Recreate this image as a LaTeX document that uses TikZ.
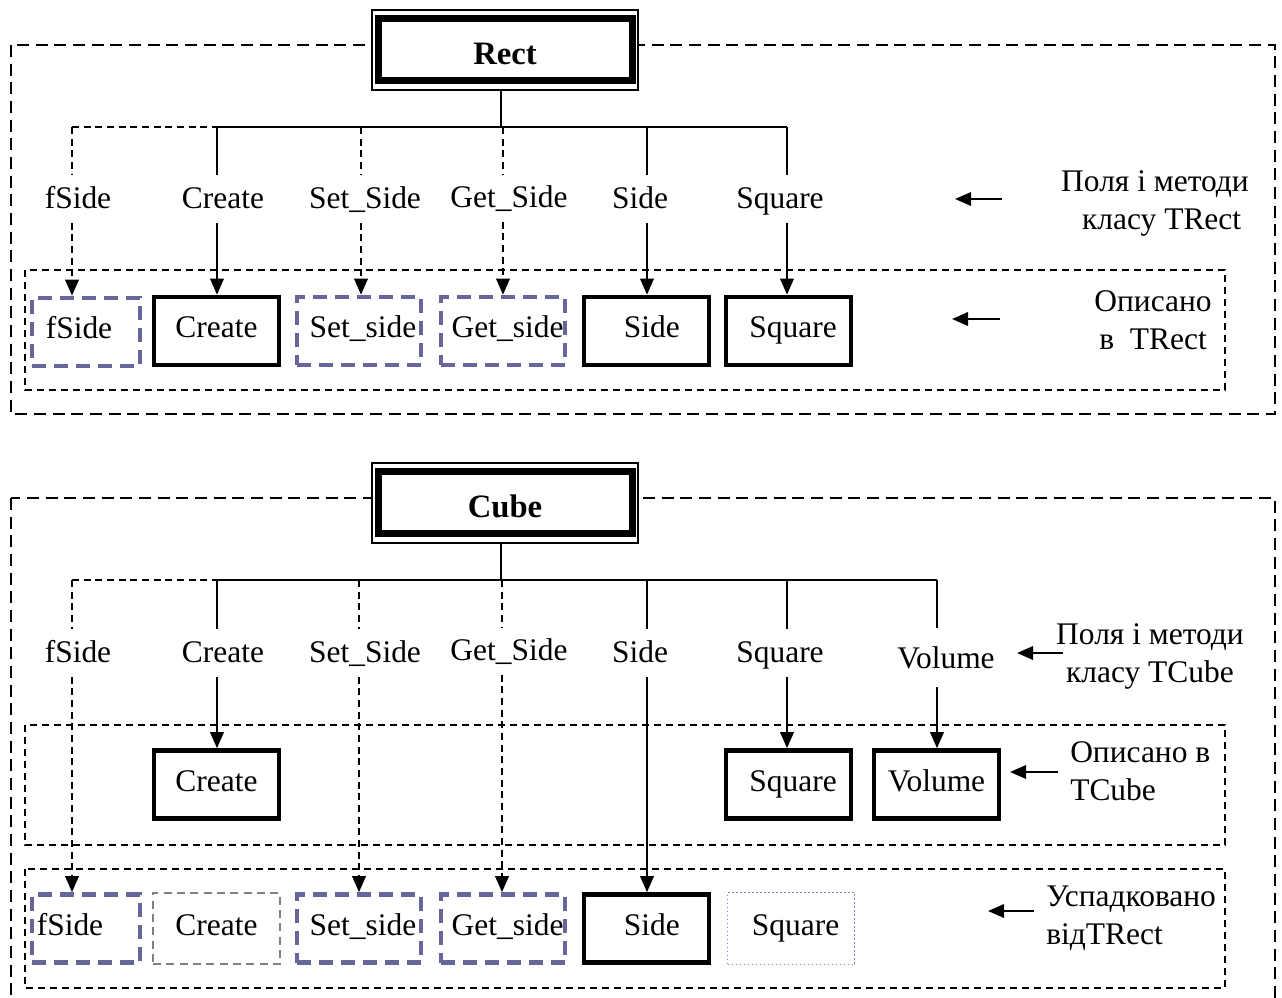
\documentclass[tikz,border=0pt]{standalone}
\usepackage{fontspec}
\setmainfont{Liberation Serif}
\usetikzlibrary{arrows.meta}
\definecolor{inhcol}{RGB}{102,102,153}
\definecolor{ghostcol}{RGB}{128,128,128}
\definecolor{dotcol}{RGB}{130,130,190}
\begin{document}
\begin{tikzpicture}[x=0.75pt,y=-0.75pt,
  every node/.style={font=\fontsize{23.6}{28.5}\selectfont},
  conn/.style={line width=1.7pt},
  dconn/.style={conn, dash pattern=on 5.25pt off 3.5pt},
  tip/.style={-{Triangle[length=12pt,width=10pt]}},
  frame/.style={line width=1.6pt, dash pattern=on 9pt off 5pt},
  group/.style={line width=1.3pt, dash pattern=on 5.5pt off 3.5pt},
  member/.style={inner sep=0pt, text height=16pt, text depth=6pt,
                 minimum height=51pt, minimum width=93.75pt},
  own/.style={member, draw, line width=3.4pt},
  inh/.style={member, draw=inhcol, line width=3.4pt, dash pattern=on 10.5pt off 6pt},
  ghost/.style={member, draw=ghostcol, line width=1.2pt, dash pattern=on 6pt off 4pt,
                minimum width=95.25pt, minimum height=53.6pt},
  dotbox/.style={member, draw=dotcol, line width=1pt, dotted,
                 minimum width=95.25pt, minimum height=54pt},
  lbl/.style={anchor=base, inner xsep=0pt, inner ysep=8.75pt, text height=16pt, text depth=2pt},
  note/.style={inner sep=0pt},
  hdr/.style={draw, line width=1.2pt, fill=white, minimum width=199.5pt,
              minimum height=60pt, text height=21pt, text depth=0pt,
              font=\fontsize{24.5}{28}\selectfont\bfseries},
  hdrframe/.style={line width=5.5pt}
]
\useasboundingbox (0,0) rectangle (1282,997);

% ---------- class TRect ----------
\draw[frame] (11,45) rectangle (1275,414);
\draw[group] (25,270) rectangle (1225,390);

\node[hdr] (hR) at (505,50) {Rect};
\draw[hdrframe] ([shift={(7.5,9.5)}]hR.north west) rectangle ([shift={(-6.5,-10)}]hR.south east);

\coordinate (rJ) at (501,127);
\coordinate (rL) at (72,127);
\coordinate (rC) at (217,127);
\coordinate (rS) at (361,127);
\coordinate (rG) at (503,127);
\coordinate (rSd) at (647,127);
\coordinate (rSq) at (787,127);

\node[lbl] (lF) at (78,208) {fSide};
\node[lbl] (lC) at (223,208) {Create};
\node[lbl] (lS) at (365,208) {Set\_Side};
\node[lbl] (lG) at (509,207) {Get\_Side};
\node[lbl] (lSd) at (640,208) {Side};
\node[lbl] (lSq) at (780,208) {Square};

\node[inh, minimum width=81pt] (bF) at (86,332) {fSide\hspace*{10.5pt}};
\node[own] (bC) at (216.5,331) {Create};
\node[inh, minimum width=93pt] (bS) at (359,331) {\hspace*{6pt}Set\_side};
\node[inh, minimum width=93pt] (bG) at (503,331) {\hspace*{7pt}Get\_side};
\node[own] (bSd) at (646.5,331) {\hspace*{8pt}Side};
\node[own] (bSq) at (788.5,331) {\hspace*{7pt}Square};

\draw[conn] (hR.south -| rJ) -- (rJ);
\draw[dconn] (rL) -- (rC);
\draw[conn] (rC) -- (rSq);

\draw[dconn] (rL) -- (rL |- lF.north);
\draw[conn] (rC) -- (rC |- lC.north);
\draw[dconn] (rS) -- (rS |- lS.north);
\draw[dconn] (rG) -- (rG |- lG.north);
\draw[conn] (rSd) -- (rSd |- lSd.north);
\draw[conn] (rSq) -- (rSq |- lSq.north);

\draw[dconn,tip] (rL |- lF.south) -- (rL |- bF.north);
\draw[conn,tip] (rC |- lC.south) -- (rC |- bC.north);
\draw[dconn,tip] (rS |- lS.south) -- (rS |- bS.north);
\draw[dconn,tip] (rG |- lG.south) -- (rG |- bG.north);
\draw[conn,tip] (rSd |- lSd.south) -- (rSd |- bSd.north);
\draw[conn,tip] (rSq |- lSq.south) -- (rSq |- bSq.north);

\node[note, align=center] (nR1) at (1155,203) {Поля і методи\\\hspace*{10pt}класу TRect};
\node[note, align=center] (nR2) at (1153,320) {Описано\\в\ \ TRect};
\coordinate (aR1) at (1002,199);
\coordinate (aR1h) at (955,199);
\coordinate (aR2) at (1000,319);
\coordinate (aR2h) at (952,319);
\draw[conn,tip] (aR1) -- (aR1h);
\draw[conn,tip] (aR2) -- (aR2h);

% ---------- class TCube ----------
\draw[frame] (11,498) rectangle (1275,1012);
\draw[group] (25,725) rectangle (1225,845);
\draw[group] (25,869) rectangle (1225,988);

\node[hdr] (hC) at (505,503) {Cube};
\draw[hdrframe] ([shift={(7.5,9.5)}]hC.north west) rectangle ([shift={(-6.5,-10)}]hC.south east);

\coordinate (cJ) at (501,580);
\coordinate (cL) at (72,580);
\coordinate (cC) at (217,580);
\coordinate (cS) at (359,580);
\coordinate (cG) at (502,580);
\coordinate (cSd) at (647,580);
\coordinate (cSq) at (787,580);
\coordinate (cV) at (937,580);

\node[lbl] (mF) at (78,662) {fSide};
\node[lbl] (mC) at (223,662) {Create};
\node[lbl] (mS) at (365,662) {Set\_Side};
\node[lbl] (mG) at (509,660) {Get\_Side};
\node[lbl] (mSd) at (640,662) {Side};
\node[lbl] (mSq) at (780,662) {Square};
\node[lbl, inner ysep=14pt, text depth=0pt] (mV) at (946,668) {Volume};

% methods described in TCube
\node[own] (dC) at (216.5,784.5) {Create};
\node[own] (dSq) at (788.5,784.5) {\hspace*{7pt}Square};
\node[own] (dV) at (936.5,784.5) {Volume};

% members inherited from TRect
\node[inh, minimum width=81pt] (iF) at (86,928.5) {fSide\hspace*{24pt}};
\node[ghost] (iC) at (216.5,928.5) {Create};
\node[inh, minimum width=93pt] (iS) at (359,928.5) {\hspace*{6pt}Set\_side};
\node[inh, minimum width=93pt] (iG) at (503,928.5) {\hspace*{7pt}Get\_side};
\node[own] (iSd) at (646.5,928.5) {\hspace*{8pt}Side};
\node[dotbox] (iSq) at (791,928.5) {\hspace*{7pt}Square};

\draw[conn] (hC.south -| cJ) -- (cJ);
\draw[dconn] (cL) -- (cC);
\draw[conn] (cC) -- (cV);

\draw[dconn] (cL) -- (cL |- mF.north);
\draw[conn] (cC) -- (cC |- mC.north);
\draw[dconn] (cS) -- (cS |- mS.north);
\draw[dconn] (cG) -- (cG |- mG.north);
\draw[conn] (cSd) -- (cSd |- mSd.north);
\draw[conn] (cSq) -- (cSq |- mSq.north);
\draw[conn] (cV) -- (cV |- mV.north);

\draw[conn,tip] (cC |- mC.south) -- (cC |- dC.north);
\draw[conn,tip] (cSq |- mSq.south) -- (cSq |- dSq.north);
\draw[conn,tip] (cV |- mV.south) -- (cV |- dV.north);

\draw[dconn,tip] (cL |- mF.south) -- (cL |- iF.north);
\draw[dconn,tip] (cS |- mS.south) -- (cS |- iS.north);
\draw[dconn,tip] (cG |- mG.south) -- (cG |- iG.north);
\draw[conn,tip] (cSd |- mSd.south) -- (cSd |- iSd.north);

\node[note, align=center] (nC1) at (1150,656) {Поля і методи\\класу TCube};
\node[note, align=left, anchor=west] (nC2) at (1070,771) {Описано в\\TCube};
\node[note, align=left, anchor=west] (nC3) at (1046,918) {Успадковано\\відTRect};
\coordinate (aC1) at (1063,653);
\coordinate (aC1h) at (1017,653);
\coordinate (aC2) at (1058,772);
\coordinate (aC2h) at (1010,772);
\coordinate (aC3) at (1034,911);
\coordinate (aC3h) at (988,911);
\draw[conn,tip] (aC1) -- (aC1h);
\draw[conn,tip] (aC2) -- (aC2h);
\draw[conn,tip] (aC3) -- (aC3h);
\end{tikzpicture}
\end{document}
